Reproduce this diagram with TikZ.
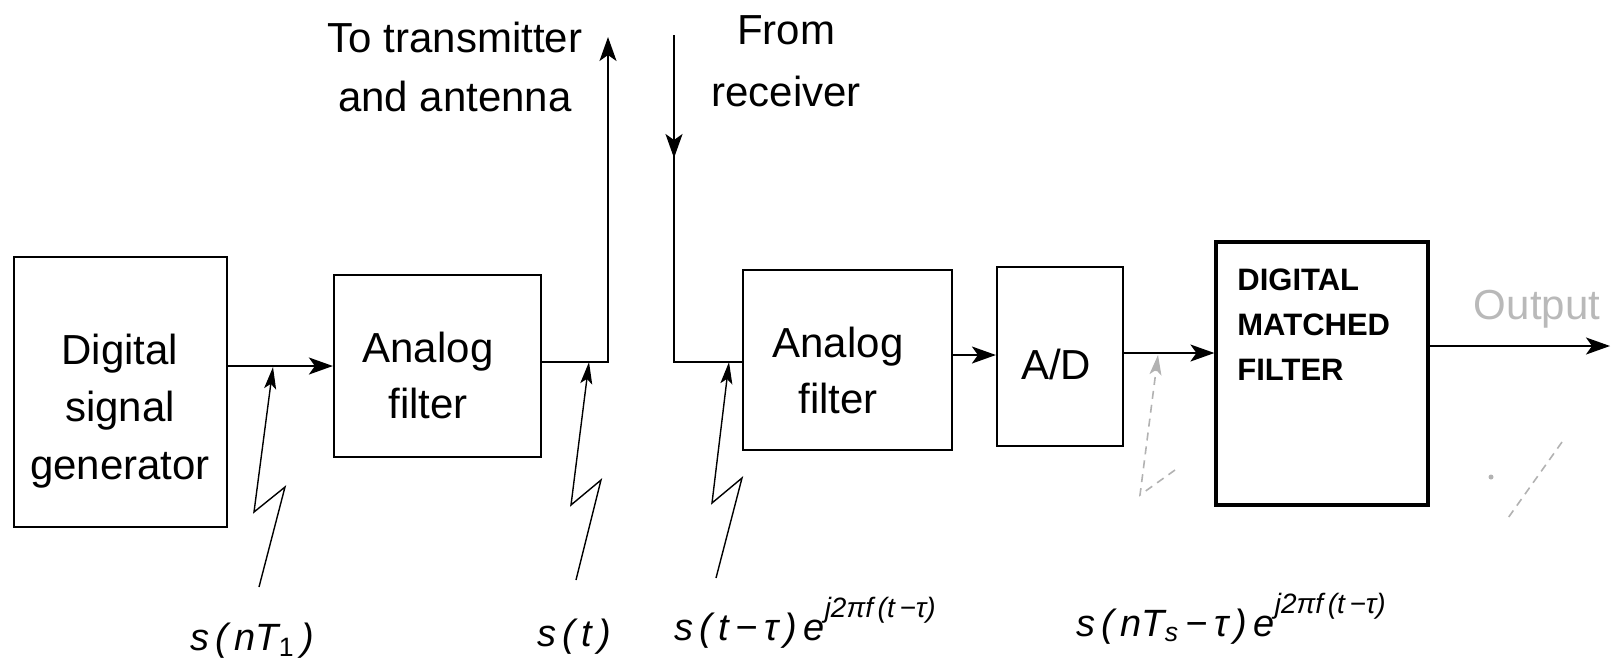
\documentclass[tikz,border=0pt]{standalone}
\usepackage{fontspec}
\setmainfont{Liberation Sans}
\usetikzlibrary{arrows.meta}
\newcommand\myexp[1]{\raisebox{11.5pt}{\fontsize{14}{14}\selectfont #1}}
\begin{document}
\begin{tikzpicture}[x=0.5pt,y=-0.5pt,
  blk/.style 2 args={draw, line width=1.1pt, inner sep=0pt,
    minimum width=#1*0.5pt, minimum height=#2*0.5pt},
  btext/.style={align=center, inner sep=0pt, font=\fontsize{21}{28}\selectfont},
  dtext/.style={align=left, inner sep=0pt, font=\bfseries\fontsize{15.5}{22.5}\selectfont},
  lbl/.style={anchor=base, inner sep=0pt, font=\fontsize{19}{19}\selectfont\itshape},
  conn/.style={line width=1pt, -{Stealth[length=12pt,width=8.5pt,inset=3pt]}},
  plain/.style={line width=1pt},
  zig/.style={line width=0.7pt, -{Stealth[length=11pt,width=6pt,inset=2.5pt]}},
  faint/.style={line width=0.8pt, gray!60, dashed, dash pattern=on 4pt off 3pt},
]
\useasboundingbox (0,0) rectangle (1615,661);

% blocks
\node[blk={213}{270}] (dsg) at (120.5,392) {};
\node[blk={207}{182}] (af1) at (437.5,366) {};
\node[blk={209}{180}] (af2) at (847.5,360) {};
\node[blk={126}{179}] (ad)  at (1060,356.5) {};
\node[blk={212}{263}, line width=1.6pt] (dmf) at (1322,373.5) {};

% block texts
\node[btext, font=\fontsize{21}{28.75}\selectfont] (dsgtxt) at (120,411) {Digital\\signal\\generator};
\node[btext] (af1txt) at (428,375) {Analog\\filter};
\node[btext] (af2txt) at (838,370) {Analog\\filter};
\node[btext] (adtxt) at (1056,364) {A/D};
\node[dtext, anchor=north west] (dmftxt) at (1237,268) {DIGITAL\\MATCHED\\FILTER};

% top texts
\node[btext, font=\fontsize{21}{29.5}\selectfont] (txtxt) at (455,67) {To transmitter\\and antenna};
\node[btext, font=\fontsize{21}{31}\selectfont] (rxtxt) at (786,61) {From\\receiver};
\node[btext, text=gray!55] (outtxt) at (1537,309) {Output};

% level coordinates
\coordinate (y1) at (0,366);
\coordinate (y2) at (0,362);
\coordinate (y3) at (0,355);
\coordinate (y4) at (0,353);
\coordinate (y5) at (0,346);
\coordinate (txout) at (608,37);
\coordinate (rxin) at (674,35);
\coordinate (rxmid) at (674,158);
\coordinate (outend) at (1610,346);

% connectors
\draw[conn] (dsg.east |- y1) -- (af1.west |- y1);
\draw[conn] (af1.east |- y2) -| (txout);
\draw[plain] (rxin) |- (af2.west |- y2);
\draw[conn] (rxin) -- (rxmid);
\draw[conn] (af2.east |- y3) -- (ad.west |- y3);
\draw[conn] (ad.east |- y4) -- (dmf.west |- y4);
\draw[conn] (dmf.east |- y5) -- (outend);

% signal markers (lightning arrows)
\coordinate (z1t) at (273,367); \coordinate (z1b) at (259,587);
\draw[zig] (z1b) -- (285,487) -- (254,512) -- (z1t);
\coordinate (z2t) at (589,362); \coordinate (z2b) at (576,580);
\draw[zig] (z2b) -- (601,480) -- (571,505) -- (z2t);
\coordinate (z3t) at (729,362); \coordinate (z3b) at (716,578);
\draw[zig] (z3b) -- (742,478) -- (712,503) -- (z3t);
\coordinate (z4t) at (1158,355); \coordinate (z4b) at (1175,470);
\draw[faint, -{Stealth[length=10pt,width=6pt,inset=2.5pt]}] (z4b) -- (1140,495) -- (z4t);
\coordinate (mkA) at (1562,442); \coordinate (mkB) at (1508,518);
\draw[faint] (mkA) -- (mkB);
\fill[gray!60] (1491,477) circle (2.5);

% signal labels
\node[lbl] (l1) at (252,650) {s\,(\,nT\textsubscript{\upshape 1}\,)};
\node[lbl] (l2) at (574,646) {s\,(\,t\,)};
\node[lbl] (l3) at (805,640) {s\,(\,t\,−\,τ\,)\,e\myexp{j2πf\,(t\,−τ)}};
\node[lbl] (l4) at (1231,636) {s\,(\,nT\textsubscript{s}\,−\,τ\,)\,e\myexp{j2πf\,(t\,−τ)}};
\end{tikzpicture}
\end{document}
